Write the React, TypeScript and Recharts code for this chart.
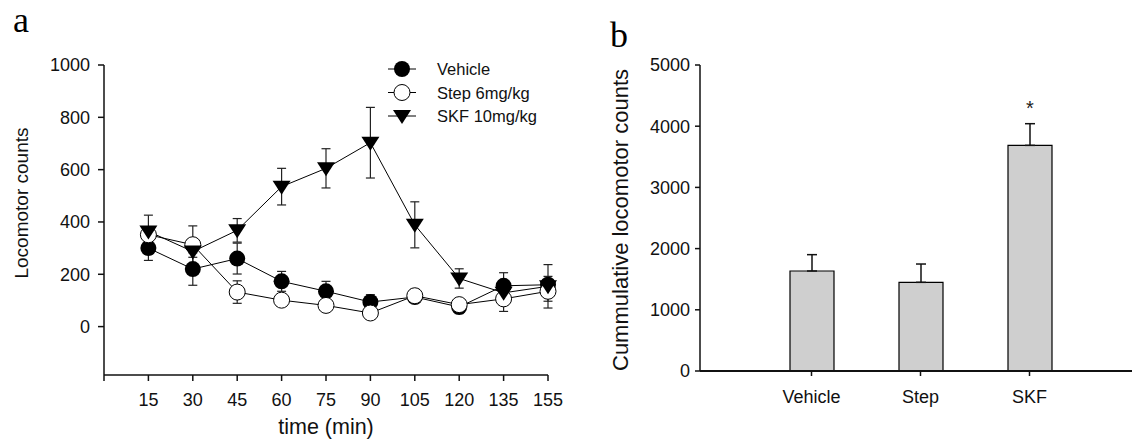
import React from 'react'
import { LineChart, Line, XAxis, YAxis, ErrorBar, BarChart, Bar, LabelList, Label } from 'recharts'

// panel a: locomotor counts per 15 min bin
const times = ['15', '30', '45', '60', '75', '90', '105', '120', '135', '155']
const vehicle    = [300, 220, 260, 173, 135, 94, 113, 75, 156, 160]
const vehicleErr = [47, 62, 59, 38, 38, 28, 20, 25, 50, 32]
const step       = [351, 313, 132, 101, 81, 52, 118, 84, 106, 135]
const stepErr    = [20, 72, 43, 20, 15, 10, 25, 20, 48, 38]
const skf        = [364, 287, 368, 535, 605, 703, 389, 184, 129, 154]
const skfErr     = [62, 22, 45, 70, 75, 135, 88, 37, 25, 83]
const yTicksA    = [0, 200, 400, 600, 800, 1000]

// panel b: cumulative counts
const groups    = ['Vehicle', 'Step', 'SKF']
const totals    = [1634, 1449, 3687]
const totalsErr = [267, 299, 354]
const marks     = ['', '', '*']
const yTicksB   = [0, 1000, 2000, 3000, 4000, 5000]

const FONT = '"Liberation Sans", Arial, Helvetica, sans-serif'
const INK  = '#111'

const timeData = times.map((t, i) => ({
  idx: i + 1,
  vehicle: vehicle[i], vehicleErr: vehicleErr[i],
  step: step[i],       stepErr: stepErr[i],
  skf: skf[i],         skfErr: skfErr[i],
}))

const totalsData = groups.map((g, i) => ({
  name: g, total: totals[i], err: [0, totalsErr[i]], mark: marks[i],
}))

const FilledDot = (p: any) => <circle key={`v${p.index}`} cx={p.cx} cy={p.cy} r={8} fill="#000" />
const OpenDot   = (p: any) => <circle key={`s${p.index}`} cx={p.cx} cy={p.cy} r={8} fill="#fff" stroke="#000" strokeWidth={1} />
const TriDot    = (p: any) => (
  <path key={`k${p.index}`} d={`M${p.cx - 9},${p.cy - 6}L${p.cx + 9},${p.cy - 6}L${p.cx},${p.cy + 8}Z`} fill="#000" />
)

const series = [
  { key: 'vehicle', name: 'Vehicle',      dot: FilledDot },
  { key: 'step',    name: 'Step 6mg/kg',  dot: OpenDot },
  { key: 'skf',     name: 'SKF 10mg/kg',  dot: TriDot },
]

function LegendBox() {
  return (
    <svg width={220} height={75} style={{ position: 'absolute', left: 380, top: 55 }}>
      {series.map((s, i) => {
        const y = 14 + i * 23.5
        return (
          <g key={s.key}>
            <line x1={8} x2={36} y1={y} y2={y} stroke="#000" strokeWidth={1} />
            {s.dot({ cx: 22, cy: y, index: 'lg' })}
            <text x={57} y={y} dominantBaseline="central" fontSize={16.5} fontFamily={FONT} fill={INK}>{s.name}</text>
          </g>
        )
      })}
    </svg>
  )
}

const tickStyle = { fontSize: 18, fill: INK, fontFamily: FONT }
const title = (x: number, y: number, text: string, size: number, rotate = false) => () => (
  <text x={x} y={y} textAnchor="middle" fontSize={size} fontFamily={FONT} fill={INK}
    transform={rotate ? `rotate(-90 ${x} ${y})` : undefined}>{text}</text>
)

export default function App() {
  return (
    <div style={{ position: 'absolute', left: 0, top: 0, width: 1132, height: 440, background: '#fff' }}>
      <div style={{ position: 'absolute', left: 13, top: 2, fontFamily: '"Liberation Serif", serif', fontSize: 36, lineHeight: 1 }}>a</div>
      <div style={{ position: 'absolute', left: 610, top: 17, fontFamily: '"Liberation Serif", serif', fontSize: 36, lineHeight: 1 }}>b</div>

      <div style={{ position: 'absolute', left: 0, top: 0 }}>
        <LineChart width={580} height={440} data={timeData} margin={{ top: 65, right: 32, bottom: 15, left: 44 }}>
          <XAxis
            type="number" dataKey="idx" domain={[0, 10]}
            ticks={[0, ...times.map((_, i) => i + 1)]}
            tickFormatter={(v: number) => times[v - 1] ?? ''}
            height={50} tickSize={6} tickMargin={12}
            tick={tickStyle} axisLine={{ stroke: INK, strokeWidth: 1.5 }} tickLine={{ stroke: INK, strokeWidth: 1.5 }}
          >
            <Label content={title(326, 434, 'time (min)', 21.5)} />
          </XAxis>
          <YAxis
            domain={[-185, 1000]} ticks={yTicksA} allowDataOverflow
            width={60} tickSize={6} tickMargin={8}
            tick={tickStyle} axisLine={{ stroke: INK, strokeWidth: 1.5 }} tickLine={{ stroke: INK, strokeWidth: 1.5 }}
          >
            <Label content={title(28, 203, 'Locomotor counts', 19, true)} />
          </YAxis>
          {series.map(s => (
            <Line key={s.key} dataKey={s.key} name={s.name} stroke="#000" strokeWidth={1}
              dot={s.dot} activeDot={false} isAnimationActive={false}>
              <ErrorBar dataKey={`${s.key}Err`} direction="y" width={4.5} stroke="#222" strokeWidth={1.2} />
            </Line>
          ))}
        </LineChart>
        <LegendBox />
      </div>

      <div style={{ position: 'absolute', left: 580, top: 0 }}>
        <BarChart width={552} height={440} data={totalsData} margin={{ top: 65, right: 0, bottom: 19, left: 50 }}>
          <XAxis
            dataKey="name" height={50} padding={{ left: 57, right: 48 }}
            tickSize={5} tickMargin={14}
            tick={tickStyle} axisLine={{ stroke: INK, strokeWidth: 2 }} tickLine={{ stroke: INK, strokeWidth: 1.5 }}
          />
          <YAxis
            domain={[0, 5000]} ticks={yTicksB} width={70} tickSize={5} tickMargin={5}
            tick={tickStyle} axisLine={{ stroke: INK, strokeWidth: 1.5 }} tickLine={{ stroke: INK, strokeWidth: 1.5 }}
          >
            <Label content={title(48, 220, 'Cummulative locomotor counts', 22, true)} />
          </YAxis>
          <Bar dataKey="total" barSize={44} fill="#cfcfcf" stroke="#000" strokeWidth={1.2} isAnimationActive={false}>
            <ErrorBar dataKey="err" direction="y" width={5} stroke={INK} strokeWidth={1.5} />
            <LabelList dataKey="mark" position="top" offset={30} fontSize={20} fill="#222" fontFamily={FONT} />
          </Bar>
        </BarChart>
      </div>
    </div>
  )
}
